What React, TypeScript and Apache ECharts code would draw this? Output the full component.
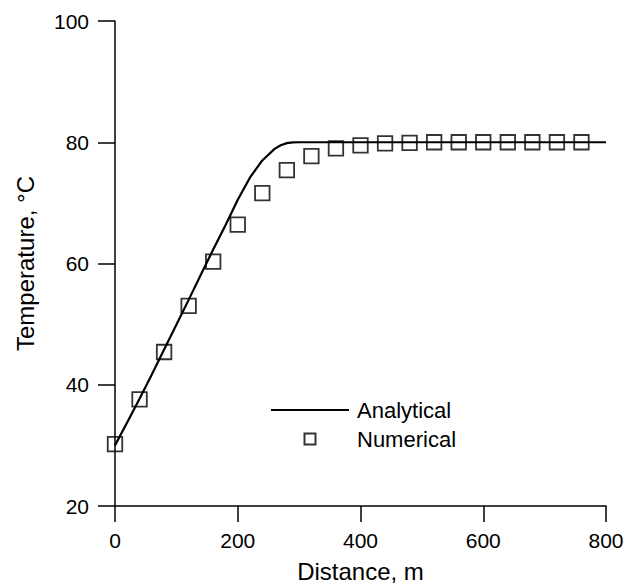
import React, { useEffect, useRef } from "react";
import * as echarts from "echarts";

const analyticalX = [0, 20, 40, 60, 80, 100, 120, 140, 160, 180, 200, 220, 240, 260, 270, 280, 290, 300, 350, 400, 500, 600, 700, 800];
const analyticalT = [30.0, 33.8, 37.7, 41.7, 45.8, 49.9, 54.0, 58.2, 62.3, 66.3, 70.5, 74.2, 77.0, 78.9, 79.5, 79.85, 79.97, 80.0, 80.0, 80.0, 80.0, 80.0, 80.0, 80.0];

const numericalX = [0, 40, 80, 120, 160, 200, 240, 280, 320, 360, 400, 440, 480, 520, 560, 600, 640, 680, 720, 760];
const numericalT = [30.2, 37.6, 45.4, 53.0, 60.3, 66.4, 71.6, 75.4, 77.7, 79.0, 79.5, 79.8, 79.9, 80.0, 80.0, 80.0, 80.0, 80.0, 80.0, 80.0];

const xTicks = { min: 0, max: 800, interval: 200 };
const yTicks = { min: 20, max: 100, interval: 20 };

const FONT = "'Liberation Sans', Arial, sans-serif";

export default function App() {
  const ref = useRef<HTMLDivElement>(null);
  useEffect(() => {
    if (!ref.current) return;
    const chart = echarts.init(ref.current, null, { renderer: "svg" });
    const axisCommon = {
      axisLine: { show: true, lineStyle: { color: "#000", width: 1.5 } },
      splitLine: { show: false },
      nameLocation: "middle" as const,
      nameTextStyle: { color: "#000", fontSize: 24, fontFamily: FONT },
    };
    chart.setOption({
      animation: false,
      backgroundColor: "#fff",
      textStyle: { fontFamily: FONT },
      grid: { left: 115, right: 28, top: 21, bottom: 76, containLabel: false },
      legend: {
        orient: "vertical",
        left: 270,
        top: 399,
        padding: 0,
        itemWidth: 78,
        itemHeight: 11,
        itemGap: 7,
        textStyle: { color: "#000", fontSize: 22, fontFamily: FONT, padding: [0, 0, 0, 3] },
        data: [
          { name: "Analytical", itemStyle: { opacity: 0 } },
          { name: "Numerical", icon: "path://M0,0L10,0L10,10L0,10Z" },
        ],
      },
      xAxis: {
        type: "value",
        ...axisCommon,
        min: xTicks.min,
        max: xTicks.max,
        interval: xTicks.interval,
        name: "Distance, m",
        nameGap: 53,
        axisTick: { show: true, length: 16, lineStyle: { color: "#000", width: 1.5 } },
        axisLabel: { color: "#000", fontSize: 21, fontFamily: FONT, margin: 24 },
      },
      yAxis: {
        type: "value",
        ...axisCommon,
        min: yTicks.min,
        max: yTicks.max,
        interval: yTicks.interval,
        name: "Temperature, °C",
        nameGap: 78,
        axisTick: { show: true, length: 17, lineStyle: { color: "#000", width: 1.5 } },
        axisLabel: { color: "#000", fontSize: 21, fontFamily: FONT, margin: 26 },
      },
      series: [
        {
          name: "Analytical",
          type: "line",
          data: analyticalX.map((x, i) => [x, analyticalT[i]]),
          symbol: "none",
          smooth: false,
          lineStyle: { color: "#000", width: 2.2 },
          itemStyle: { color: "#000" },
          z: 3,
        },
        {
          name: "Numerical",
          type: "scatter",
          data: numericalX.map((x, i) => [x, numericalT[i]]),
          symbol: "rect",
          symbolSize: 14.5,
          itemStyle: { color: "rgba(255,255,255,0)", borderColor: "#000", borderWidth: 1.8 },
          z: 2,
        },
      ],
    });
    return () => chart.dispose();
  }, []);
  return <div ref={ref} style={{ width: 634, height: 588, position: "absolute", left: 0, top: 0 }} />;
}
